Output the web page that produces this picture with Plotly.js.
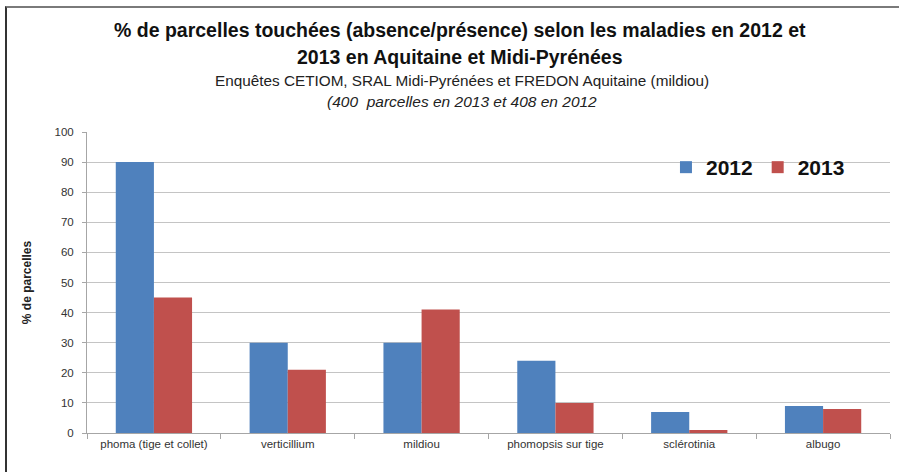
<!DOCTYPE html>
<html>
<head>
<meta charset="utf-8">
<script src="https://cdn.plot.ly/plotly-3.0.1.min.js"></script>
<style>
  html, body { margin: 0; padding: 0; background: #fff; }
  #wrap { position: relative; width: 899px; height: 472px; overflow: hidden; }
  #frame { position: absolute; left: 5px; top: 6px; width: 1000px; height: 1000px;
           border-left: 2px solid #333; border-top: 2px solid #7a7a7a; pointer-events: none; z-index: 2; }
  #chart { position: absolute; left: 0; top: 0; width: 899px; height: 472px; }
</style>
</head>
<body>
<div id="wrap">
  <div id="chart"></div>
  <div id="frame"></div>
</div>
<script>
const categories = ["phoma (tige et collet)", "verticillium", "mildiou", "phomopsis sur tige", "sclérotinia", "albugo"];
const values2012 = [90, 30, 30, 24, 7, 9];
const values2013 = [45, 21, 41, 10, 1, 8];
const seriesNames = ["2012", "2013"];
const yTicks = [0, 10, 20, 30, 40, 50, 60, 70, 80, 90, 100];

const titleLine1 = "% de parcelles touchées (absence/présence) selon les maladies en 2012 et";
const titleLine2 = "2013 en Aquitaine et Midi-Pyrénées";
const subLine1 = "Enquêtes CETIOM, SRAL Midi-Pyrénées et FREDON Aquitaine (mildiou)";
const subLine2 = "(400  parcelles en 2013 et 408 en 2012";

const FONT = "Liberation Sans, Arial, sans-serif";

const traces = [
  { type: "bar", name: seriesNames[0], x: categories, y: values2012,
    marker: { color: "#4F81BD" }, hoverinfo: "x+y" },
  { type: "bar", name: seriesNames[1], x: categories, y: values2013,
    marker: { color: "#C0504D" }, hoverinfo: "x+y" }
];

const layout = {
  width: 899, height: 472,
  margin: { l: 87, r: 9, t: 132, b: 39, pad: 0 },
  paper_bgcolor: "rgba(0,0,0,0)",
  plot_bgcolor: "#fff",
  barmode: "group",
  bargap: 0.43,
  bargroupgap: 0,
  font: { family: FONT, color: "#333" },
  xaxis: {
    type: "category",
    tickson: "boundaries",
    ticks: "outside", ticklen: 5, tickcolor: "#a6a6a6",
    showline: true, linecolor: "#a6a6a6", linewidth: 1,
    showgrid: false,
    tickfont: { family: FONT, size: 11.5, color: "#333" },
    automargin: false
  },
  yaxis: {
    range: [0, 100],
    tickvals: yTicks,
    ticktext: yTicks.map(String),
    ticks: "outside", ticklen: 4, tickcolor: "#a6a6a6",
    ticklabelstandoff: 6,
    showline: true, linecolor: "#a6a6a6", linewidth: 1,
    showgrid: true, gridcolor: "#c4c4c4", gridwidth: 1,
    zeroline: false,
    tickfont: { family: FONT, size: 11.5, color: "#333" },
    title: { text: "<b>% de parcelles</b>", font: { family: FONT, size: 12, color: "#222" }, standoff: 20 },
    automargin: false
  },
  legend: {
    orientation: "h",
    x: 0.721, y: 0.882, xanchor: "left", yanchor: "middle",
    bgcolor: "rgba(255,255,255,0)",
    font: { family: FONT, size: 21, color: "#111", weight: "bold" },
    itemwidth: 30,
    tracegroupgap: 0
  },
  annotations: [
    { text: "<b>" + titleLine1 + "</b>", xref: "paper", yref: "paper", x: 0.465, y: 1, yshift: 102,
      xanchor: "center", yanchor: "middle", showarrow: false,
      font: { family: FONT, size: 19.5, color: "#111" } },
    { text: "<b>" + titleLine2 + "</b>", xref: "paper", yref: "paper", x: 0.465, y: 1, yshift: 75,
      xanchor: "center", yanchor: "middle", showarrow: false,
      font: { family: FONT, size: 19.5, color: "#111" } },
    { text: subLine1, xref: "paper", yref: "paper", x: 0.467, y: 1, yshift: 52,
      xanchor: "center", yanchor: "middle", showarrow: false,
      font: { family: FONT, size: 15.3, color: "#222" } },
    { text: "<i>" + subLine2 + "</i>", xref: "paper", yref: "paper", x: 0.467, y: 1, yshift: 31,
      xanchor: "center", yanchor: "middle", showarrow: false,
      font: { family: FONT, size: 15.5, color: "#222" } }
  ]
};

Plotly.newPlot("chart", traces, layout, { displayModeBar: false, staticPlot: true });
</script>
</body>
</html>
